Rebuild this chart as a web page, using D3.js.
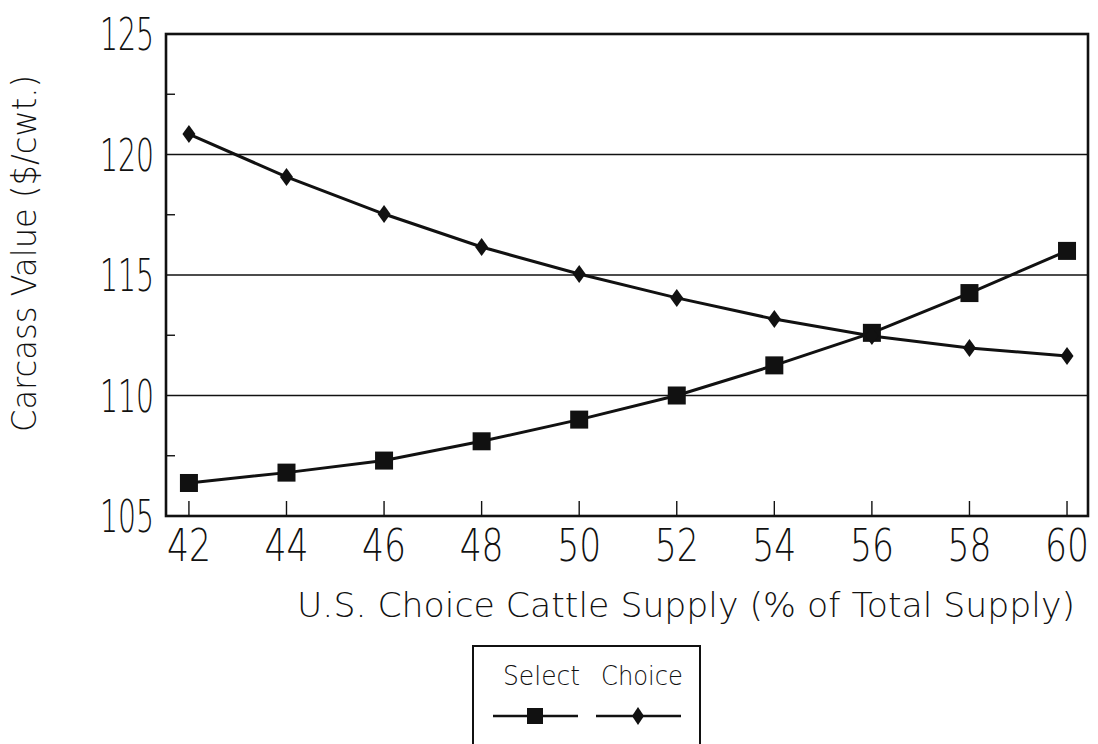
<!DOCTYPE html>
<html><head><meta charset="utf-8">
<script src="https://cdn.jsdelivr.net/npm/d3@7"></script>
<style>
body{margin:0;background:#fff;}
text{font-family:"DejaVu Sans","Liberation Sans",sans-serif;font-weight:200;fill:#111;}
</style></head>
<body><svg id="c" width="1098" height="744"></svg>
<script>
const supply = [42,44,46,48,50,52,54,56,58,60];
const selectVals = [106.37,106.8,107.3,108.1,109.0,110.0,111.25,112.6,114.25,116.0];
const choiceVals = [120.85,119.07,117.53,116.16,115.04,114.05,113.17,112.47,111.97,111.64];
const yTicks = [105,110,115,120,125];
const yMinor = [107.5,112.5,117.5,122.5];
const gridVals = [110,115,120];
const seriesNames = ["Select","Choice"];
const xTitle = "U.S. Choice Cattle Supply (% of Total Supply)";
const yTitle = "Carcass Value ($/cwt.)";

const svg = d3.select("#c");
const L=166,R=1088,T=34,B=516;
const x = d3.scaleLinear().domain([41.53,60.43]).range([L,R]);
const y = d3.scaleLinear().domain([105,125]).range([B,T]);

svg.selectAll(".grid").data(gridVals).enter().append("line")
 .attr("x1",L).attr("x2",R).attr("y1",d=>y(d)).attr("y2",d=>y(d))
 .attr("stroke","#111").attr("stroke-width",1.6);

svg.selectAll(".xt").data(supply).enter().append("line")
 .attr("x1",d=>x(d)).attr("x2",d=>x(d)).attr("y1",B).attr("y2",B-15)
 .attr("stroke","#111").attr("stroke-width",1.4);
svg.selectAll(".ym").data(yMinor).enter().append("line")
 .attr("x1",L).attr("x2",L+9).attr("y1",d=>y(d)).attr("y2",d=>y(d))
 .attr("stroke","#111").attr("stroke-width",1.4);

svg.append("rect").attr("x",L).attr("y",T).attr("width",R-L).attr("height",B-T)
 .attr("fill","none").attr("stroke","#111").attr("stroke-width",2.6);

svg.selectAll(".yl").data(yTicks).enter().append("text")
 .attr("x",154).attr("y",d=>y(d)+16).attr("text-anchor","end")
 .attr("font-size",44).attr("textLength",54).attr("lengthAdjust","spacingAndGlyphs")
 .text(d=>d);
svg.selectAll(".xl").data(supply).enter().append("text")
 .attr("x",d=>x(d)).attr("y",561).attr("text-anchor","middle")
 .attr("font-size",44).attr("textLength",44).attr("lengthAdjust","spacingAndGlyphs")
 .text(d=>d);

svg.append("text").attr("x",297).attr("y",617).attr("font-size",34)
 .attr("textLength",778).attr("lengthAdjust","spacingAndGlyphs").text(xTitle);
svg.append("text").attr("transform","translate(36,432) rotate(-90)").attr("font-size",34)
 .attr("textLength",357).attr("lengthAdjust","spacingAndGlyphs").text(yTitle);

const line = d3.line().x((d,i)=>x(supply[i])).y(d=>y(d));
[selectVals,choiceVals].forEach(vals=>{
  svg.append("path").attr("d",line(vals)).attr("fill","none")
   .attr("stroke","#111").attr("stroke-width",3);
});
const sq=18;
svg.selectAll(".sq").data(selectVals).enter().append("rect")
 .attr("x",(d,i)=>x(supply[i])-sq/2).attr("y",d=>y(d)-sq/2)
 .attr("width",sq).attr("height",sq).attr("fill","#111");
function diamond(cx,cy,w,h){return `M${cx},${cy-h/2}L${cx+w/2},${cy}L${cx},${cy+h/2}L${cx-w/2},${cy}Z`;}
svg.selectAll(".dm").data(choiceVals).enter().append("path")
 .attr("d",(d,i)=>diamond(x(supply[i]),y(d),13,18)).attr("fill","#111");

svg.append("rect").attr("x",473).attr("y",646).attr("width",227).attr("height",120)
 .attr("fill","none").attr("stroke","#111").attr("stroke-width",2);
const lg=[{t:seriesNames[0],tx:503,tw:77,x1:493,x2:578,cx:535,m:"sq"},
          {t:seriesNames[1],tx:601,tw:82,x1:596,x2:681,cx:638,m:"dm"}];
lg.forEach(g=>{
  svg.append("text").attr("x",g.tx).attr("y",685).attr("font-size",27)
   .attr("textLength",g.tw).attr("lengthAdjust","spacingAndGlyphs").text(g.t);
  svg.append("line").attr("x1",g.x1).attr("x2",g.x2).attr("y1",716).attr("y2",716)
   .attr("stroke","#111").attr("stroke-width",2.5);
  if(g.m==="sq") svg.append("rect").attr("x",g.cx-8).attr("y",716-8).attr("width",16).attr("height",16).attr("fill","#111");
  else svg.append("path").attr("d",diamond(g.cx,716,12,18)).attr("fill","#111");
});
</script></body></html>
